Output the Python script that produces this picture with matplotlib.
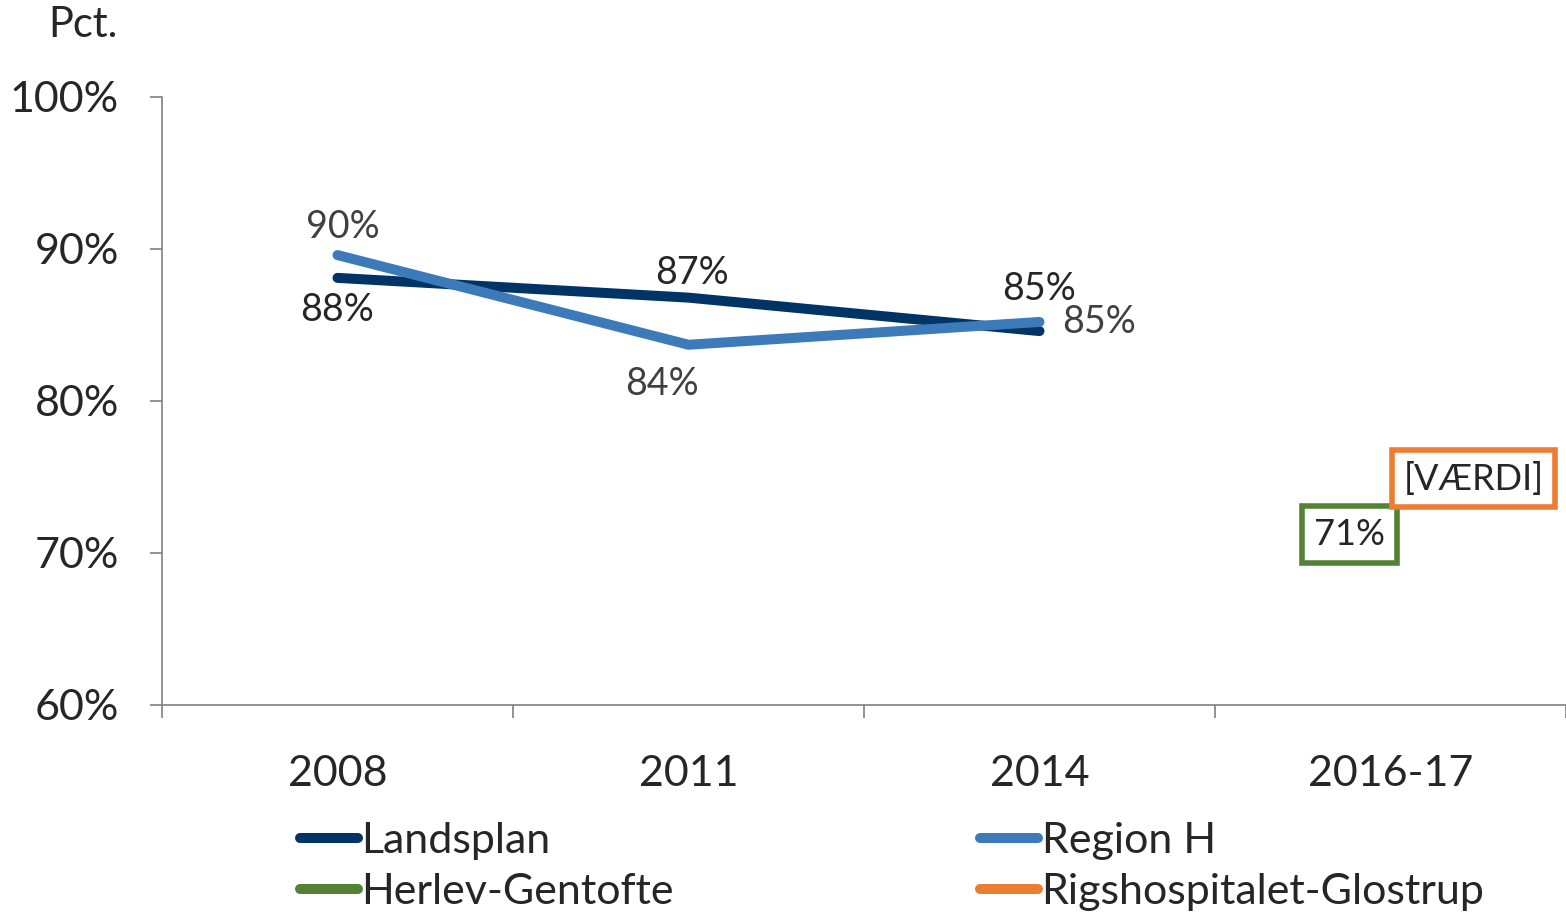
import numpy as np
import matplotlib.pyplot as plt

plt.rcParams['font.family'] = ['Lato', 'DejaVu Sans']

# data
years = ['2008', '2011', '2014', '2016-17']
landsplan = [88.1, 86.8, 84.6, np.nan]
region_h = [89.6, 83.7, 85.2, np.nan]
herlev = [np.nan, np.nan, np.nan, 71.2]
rigs = [np.nan, np.nan, np.nan, 74.9]
land_labels = ['88%', '87%', '85%']
regh_labels = ['90%', '84%', '85%']
yticks = [60, 70, 80, 90, 100]

c_land = '#003366'
c_regh = '#3d7ab9'
c_herl = '#548235'
c_rigs = '#ed7d31'

fig = plt.figure(figsize=(15.66, 9.23), dpi=100)
ax = fig.add_axes([162/1566, 1-705/923, 1-162/1566, (705-97)/923])

x = np.arange(len(years))
l1, = ax.plot(x, landsplan, color=c_land, lw=7.2, solid_capstyle='round', label='Landsplan')
l2, = ax.plot(x, region_h, color=c_regh, lw=7.2, solid_capstyle='round', label='Region H')
l3, = ax.plot(x, herlev, color=c_herl, lw=7.2, solid_capstyle='round', label='Herlev-Gentofte')
l4, = ax.plot(x, rigs, color=c_rigs, lw=7.2, solid_capstyle='round', label='Rigshospitalet-Glostrup')

# data labels (offsets in pixels)
land_off = [(0, -32), (3, 25), (0, 42)]
regh_off = [(5, 28), (-27, -39), (60, 0)]
for i in range(3):
    ax.annotate(land_labels[i], (x[i], landsplan[i]), xytext=land_off[i], textcoords='offset pixels',
                ha='center', va='center', fontsize=27, color='#262626')
    ax.annotate(regh_labels[i], (x[i], region_h[i]), xytext=regh_off[i], textcoords='offset pixels',
                ha='center', va='center', fontsize=27, color='#404040')

ax.annotate('71%', (x[3], herlev[3]), xytext=(-41, 0), textcoords='offset pixels',
            ha='center', va='center', fontsize=26, color='#262626',
            bbox=dict(boxstyle='square,pad=0.33', fc='white', ec=c_herl, lw=4))
ax.annotate('[VÆRDI]', (x[3], rigs[3]), xytext=(83, 0), textcoords='offset pixels',
            ha='center', va='center', fontsize=26, color='#262626',
            bbox=dict(boxstyle='square,pad=0.33', fc='white', ec=c_rigs, lw=4))

ax.set_xlim(-0.5, 3.5)
ax.set_ylim(60, 100)
ax.set_yticks(yticks)
ax.set_yticklabels([f'{v}%' for v in yticks])
ax.set_xticks(x)
ax.set_xticklabels(years)
ax.set_xticks(np.arange(-0.5, 4, 1), minor=True)
ax.tick_params(axis='x', which='major', length=0, pad=36, labelsize=31, labelcolor='#262626')
ax.tick_params(axis='x', which='minor', length=9, width=1.2, color='#808080', direction='out')
ax.tick_params(axis='y', length=9, width=1.2, color='#808080', pad=22, labelsize=31, labelcolor='#262626')
for s in ['top', 'right']:
    ax.spines[s].set_visible(False)
for s in ['left', 'bottom']:
    ax.spines[s].set_color('#808080')
    ax.spines[s].set_linewidth(1.2)

fig.text(118/1566, 1-25/923, 'Pct.', ha='right', va='center', fontsize=30, color='#262626')

leg_kw = dict(frameon=False, fontsize=31, handlelength=1.35, handletextpad=0.08,
              labelspacing=0.3, borderaxespad=0, borderpad=0, labelcolor='#262626')
leg1 = fig.legend([l1, l3], ['Landsplan', 'Herlev-Gentofte'], loc='upper left',
                  bbox_to_anchor=(300/1566, 1-822/923), **leg_kw)
leg2 = fig.legend([l2, l4], ['Region H', 'Rigshospitalet-Glostrup'], loc='upper left',
                  bbox_to_anchor=(980/1566, 1-822/923), **leg_kw)

fig.savefig('out.png', dpi=100)
